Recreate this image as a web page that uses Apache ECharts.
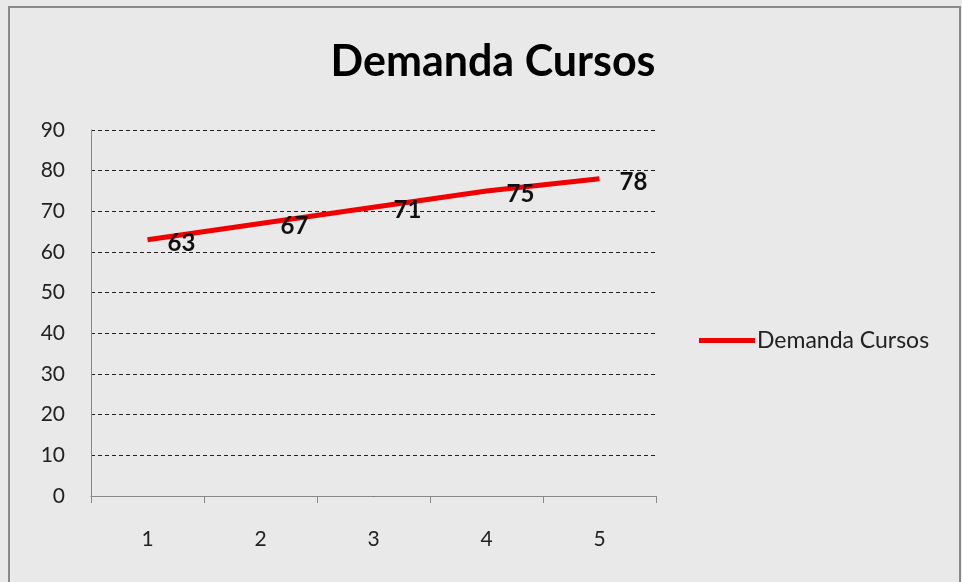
<!DOCTYPE html>
<html>
<head>
<meta charset="utf-8">
<script src="https://cdn.jsdelivr.net/npm/echarts@6/dist/echarts.min.js"></script>
<style>
  html, body { margin: 0; padding: 0; background: #fff; }
  #chart { width: 962px; height: 582px; }
</style>
</head>
<body>
<div id="chart"></div>
<script>
var categories = ['1', '2', '3', '4', '5'];
var demanda = [63, 67, 71, 75, 78];
var seriesName = 'Demanda Cursos';

var chart = echarts.init(document.getElementById('chart'));
chart.setOption({
  backgroundColor: '#e9e9e9',
  textStyle: { fontFamily: 'Lato' },
  graphic: [{
    type: 'rect',
    shape: { x: 9, y: 7, width: 951, height: 580 },
    style: { fill: 'none', stroke: '#8a8a8a', lineWidth: 2 },
    silent: true
  }],
  title: {
    text: 'Demanda Cursos',
    left: 488,
    textAlign: 'center',
    top: 36,
    textStyle: { fontSize: 43, fontWeight: 'bold', color: '#000', fontFamily: 'Lato' }
  },
  legend: {
    orient: 'vertical',
    left: 694,
    top: 324,
    itemWidth: 56,
    itemHeight: 5,
    itemGap: 4,
    icon: 'rect',
    itemStyle: { color: '#f00000', opacity: 1 },
    textStyle: { fontSize: 23, color: '#222', fontFamily: 'Lato', padding: [0, 0, 0, -3] },
    data: [seriesName]
  },
  grid: { left: 91, right: 306, top: 130, bottom: 86, containLabel: false },
  xAxis: {
    type: 'category',
    data: categories,
    boundaryGap: true,
    axisLine: { lineStyle: { color: '#888', width: 1 } },
    axisTick: { show: true, length: 7, lineStyle: { color: '#888' } },
    axisLabel: { fontSize: 21, color: '#222', margin: 33 },
    splitLine: { show: false }
  },
  yAxis: {
    type: 'value',
    min: 0,
    max: 90,
    interval: 10,
    axisLine: { show: true, lineStyle: { color: '#888' } },
    axisTick: { show: true, length: 8, lineStyle: { color: 'transparent' } },
    axisLabel: { fontSize: 21, color: '#222', margin: 26 },
    splitLine: { show: true, lineStyle: { color: '#222', type: [4, 3], width: 1 } }
  },
  series: [{
    name: seriesName,
    type: 'line',
    data: demanda,
    symbol: 'circle',
    symbolSize: 0.01,
    showSymbol: true,
    color: '#f00000',
    itemStyle: { color: '#f00000' },
    lineStyle: { width: 5, color: '#f00000' },
    label: {
      show: true,
      position: 'right',
      distance: 20,
      offset: [0, 3],
      fontSize: 24,
      fontWeight: 'bold',
      color: '#111',
      opacity: 1,
      fontFamily: 'Lato'
    }
  }]
});
</script>
</body>
</html>
